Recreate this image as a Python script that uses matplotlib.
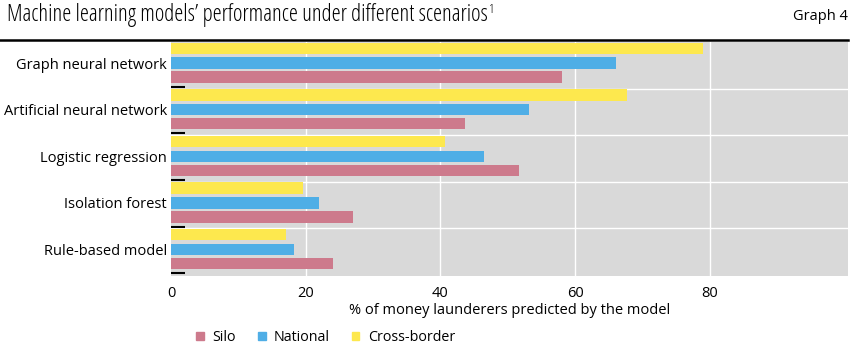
import matplotlib
matplotlib.use('Agg')
import matplotlib.pyplot as plt
from matplotlib.patches import Patch
from matplotlib.lines import Line2D
import numpy as np

models = ['Graph neural network', 'Artificial neural network', 'Logistic regression',
          'Isolation forest', 'Rule-based model']
silo = [58.0, 43.7, 51.6, 27.0, 24.0]
national = [66.0, 53.1, 46.5, 21.9, 18.2]
cross_border = [79.0, 67.7, 40.6, 19.6, 17.0]
xticks = [0, 20, 40, 60, 80]

c_silo = '#CD7A8C'
c_nat = '#4FAEE6'
c_cross = '#FDE84E'

plt.rcParams['font.family'] = ['Open Sans', 'DejaVu Sans']

fig = plt.figure(figsize=(8.65, 3.62), dpi=100)
ax = fig.add_axes([0.1977, 0.2376, 0.7827, 0.646])
ax.set_facecolor('#D9D9D9')

y = np.arange(len(models))
h = 0.245
ax.barh(y - 0.365, cross_border, height=h, color=c_cross, zorder=3)
ax.barh(y - 0.05, national, height=h, color=c_nat, zorder=3)
ax.barh(y + 0.25, silo, height=h, color=c_silo, zorder=3)

ax.set_xlim(0, 100.5)
ax.set_ylim(4.52, -0.5)
ax.set_xticks(xticks)
ax.set_xticklabels([str(v) for v in xticks], fontsize=10.5)
ax.set_yticks(y - 0.05)
ax.set_yticklabels(models, fontsize=10.5)
ax.tick_params(axis='both', length=0, pad=3)
ax.tick_params(axis='x', pad=7)
ax.set_yticks(y + 0.46, minor=True)
ax.tick_params(axis='y', which='minor', direction='in', length=10, width=1.5, color='black')

for gx in xticks[1:]:
    ax.axvline(gx, color='white', lw=1, zorder=1)
for gy in y[:-1] + 0.5:
    ax.axhline(gy, color='white', lw=1, zorder=1)

for s in ax.spines.values():
    s.set_visible(False)

ax.set_xlabel('% of money launderers predicted by the model', fontsize=10.5, labelpad=2)

fig.add_artist(Line2D([0.0, 0.98], [0.889, 0.889], color='black', lw=1.8))
t = fig.text(0.008, 0.958, 'Machine learning models\u2019 performance under different scenarios',
             fontsize=16.5, va='center', ha='left', stretch='condensed')
fig.canvas.draw()
bb = t.get_window_extent().transformed(fig.transFigure.inverted())
fig.text(bb.x1 + 0.001, 0.975, '1', fontsize=9.5, va='center', ha='left', stretch='condensed')
fig.text(0.98, 0.955, 'Graph 4', fontsize=10.5, va='center', ha='right')

handles = [Patch(color=c_silo), Patch(color=c_nat), Patch(color=c_cross)]
fig.legend(handles, ['Silo', 'National', 'Cross-border'], loc='center left',
           bbox_to_anchor=(0.212, 0.068), ncol=3, frameon=False, fontsize=10.3,
           handlelength=0.55, handleheight=0.55, handletextpad=0.6, columnspacing=1.5)

fig.savefig('out.png', dpi=100)
